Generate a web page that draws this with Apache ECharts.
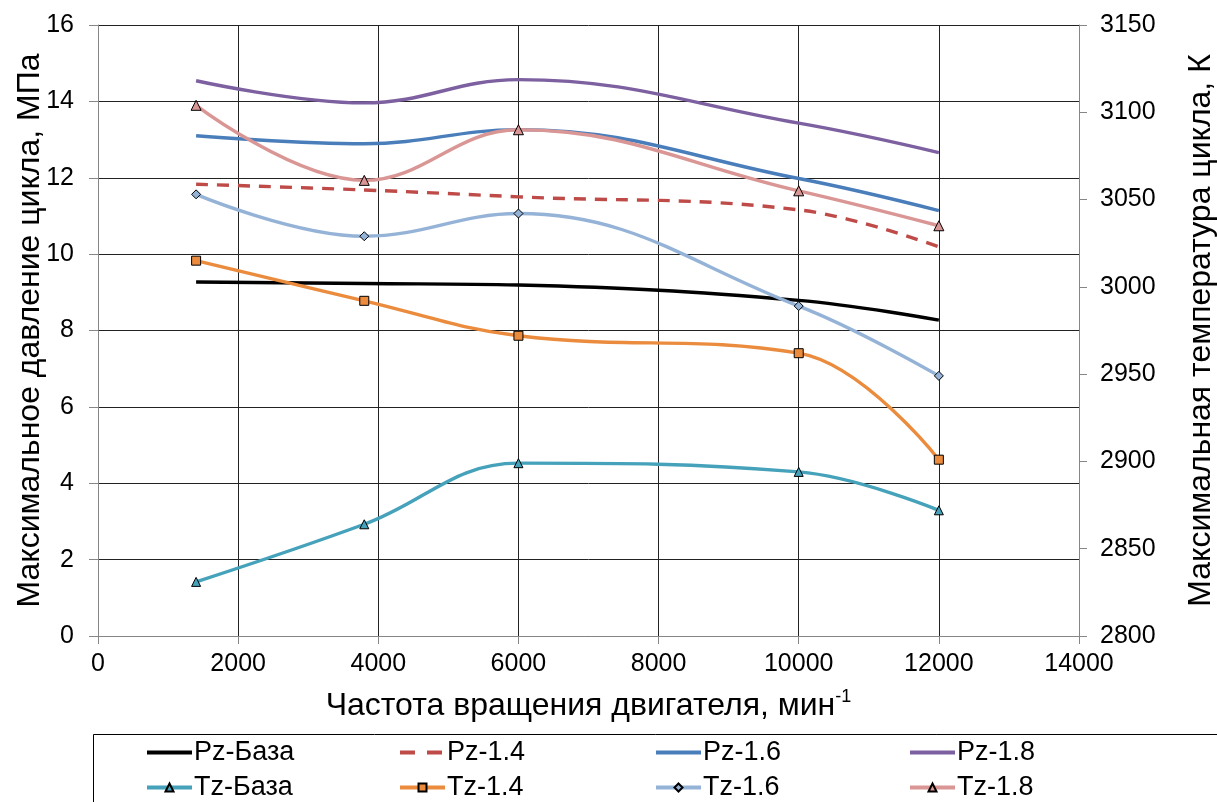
<!DOCTYPE html>
<html>
<head>
<meta charset="utf-8">
<script src="https://cdn.jsdelivr.net/npm/echarts@6/dist/echarts.min.js"></script>
<style>
  html, body { margin: 0; padding: 0; background: #fff; }
  #chart { width: 1217px; height: 802px; }
</style>
</head>
<body>
<div id="chart"></div>
<script>
// Engine speed, min^-1
const speeds = [1400, 3800, 6000, 10000, 12000];

// Peak cycle pressure, MPa (left axis)
const pzBase = [9.27, 9.23, 9.19, 8.79, 8.27];
const pz14   = [11.83, 11.68, 11.50, 11.16, 10.19];
const pz16   = [13.10, 12.89, 13.26, 11.98, 11.14];
const pz18   = [14.54, 13.96, 14.57, 13.43, 12.66];

// Peak cycle temperature, K (right axis)
const tzBase = [2831, 2864, 2899, 2894, 2872];
const tz14   = [3015, 2992, 2972, 2962, 2901];
const tz16   = [3053, 3029, 3042, 2989, 2949];
const tz18   = [3104, 3061, 3090, 3055, 3035];

const FONT = '"Liberation Sans", Arial, sans-serif';

const pairs = vals => speeds.map((s, i) => [s, vals[i]]);

function pzSeries(name, vals, color, dashed) {
  return {
    name, type: 'line', yAxisIndex: 0, data: pairs(vals),
    smooth: 0.4, symbol: 'none',
    lineStyle: { color, width: 3.4, type: dashed ? [12, 9] : 'solid' },
    itemStyle: { color },
    z: 3
  };
}
function tzSeries(name, vals, color, symbol, size) {
  return {
    name, type: 'line', yAxisIndex: 1, data: pairs(vals),
    smooth: 0.4, symbol, symbolSize: size, showSymbol: true,
    lineStyle: { color, width: 3.4 },
    itemStyle: { color, borderColor: '#000', borderWidth: 1 },
    z: 4
  };
}

const series = [
  pzSeries('Pz-База', pzBase, '#000000', false),
  pzSeries('Pz-1.4', pz14, '#BE4B48', true),
  pzSeries('Pz-1.6', pz16, '#4A7EBB', false),
  pzSeries('Pz-1.8', pz18, '#7D60A0', false),
  tzSeries('Tz-База', tzBase, '#45A2BA', 'triangle', 9),
  tzSeries('Tz-1.4', tz14, '#EB8B3D', 'rect', 9),
  tzSeries('Tz-1.6', tz16, '#95B3D7', 'diamond', 9),
  tzSeries('Tz-1.8', tz18, '#D99694', 'triangle', 10)
];

// Legend columns: pressure line on top, temperature line below
const legendCols = [
  ['Pz-База', 'Tz-База'],
  ['Pz-1.4', 'Tz-1.4'],
  ['Pz-1.6', 'Tz-1.6'],
  ['Pz-1.8', 'Tz-1.8']
];
const legendLeft = [145, 398, 654, 908];

const axisGray = '#868686';
const gridLine = { show: true, lineStyle: { color: '#222', width: 1 } };
const plain = v => String(v);

function pzLegendItem(name) {
  const item = { name, itemStyle: { opacity: 0 } };
  if (name === 'Pz-1.4') item.lineStyle = { type: [15, 12] };
  return item;
}

const option = {
  animation: false,
  backgroundColor: '#fff',
  textStyle: { fontFamily: FONT },
  grid: { left: 98, right: 138, top: 25, bottom: 166, outerBoundsMode: 'none', containLabel: false },
  xAxis: {
    type: 'value', min: 0, max: 14000, interval: 2000,
    name: '{a|Частота вращения двигателя, мин}{sup|-1}',
    nameLocation: 'middle', nameGap: 52,
    nameTextStyle: {
      rich: {
        a: { fontFamily: FONT, fontSize: 32, color: '#000', lineHeight: 36 },
        sup: { fontFamily: FONT, fontSize: 18, color: '#000', verticalAlign: 'top', lineHeight: 18 }
      }
    },
    axisLine: { show: true, lineStyle: { color: axisGray } },
    axisTick: { show: true, inside: false, length: 8, lineStyle: { color: axisGray } },
    axisLabel: { fontFamily: FONT, fontSize: 25, color: '#000', margin: 16, formatter: plain },
    splitLine: gridLine
  },
  yAxis: [
    {
      type: 'value', min: 0, max: 16, interval: 2, position: 'left',
      name: 'Максимальное давление цикла, МПа',
      nameLocation: 'middle', nameGap: 52, nameRotate: 90, nameMoveOverlap: false,
      nameTextStyle: { fontFamily: FONT, fontSize: 32, color: '#000' },
      axisLine: { show: true, lineStyle: { color: axisGray } },
      axisTick: { show: true, inside: false, length: 9, lineStyle: { color: axisGray } },
      axisLabel: { fontFamily: FONT, fontSize: 25, color: '#000', margin: 24, formatter: plain },
      splitLine: gridLine
    },
    {
      type: 'value', min: 2800, max: 3150, interval: 50, position: 'right',
      name: 'Максимальная температура цикла, К',
      nameLocation: 'middle', nameGap: 106, nameRotate: 90,
      nameTextStyle: { fontFamily: FONT, fontSize: 32, color: '#000' },
      axisLine: { show: true, lineStyle: { color: axisGray } },
      axisTick: { show: true, inside: false, length: 8, lineStyle: { color: axisGray } },
      axisLabel: { fontFamily: FONT, fontSize: 25, color: '#000', margin: 21, formatter: plain },
      splitLine: { show: false }
    }
  ],
  legend: legendCols.map((names, i) => ({
    data: [pzLegendItem(names[0]), { name: names[1] }],
    orient: 'vertical',
    left: legendLeft[i], top: 739,
    itemWidth: 45, itemHeight: 10, itemGap: 8,
    padding: 0,
    lineStyle: { width: 4 },
    textStyle: { fontFamily: FONT, fontSize: 27, color: '#000', padding: [0, 0, 0, -3] }
  })),
  graphic: [{
    type: 'rect',
    shape: { x: 93.5, y: 734.5, width: 1200, height: 120 },
    style: { fill: 'none', stroke: '#000', lineWidth: 1 },
    silent: true
  }],
  series
};

const chart = echarts.init(document.getElementById('chart'), null, { renderer: 'canvas' });
chart.setOption(option);
</script>
</body>
</html>
